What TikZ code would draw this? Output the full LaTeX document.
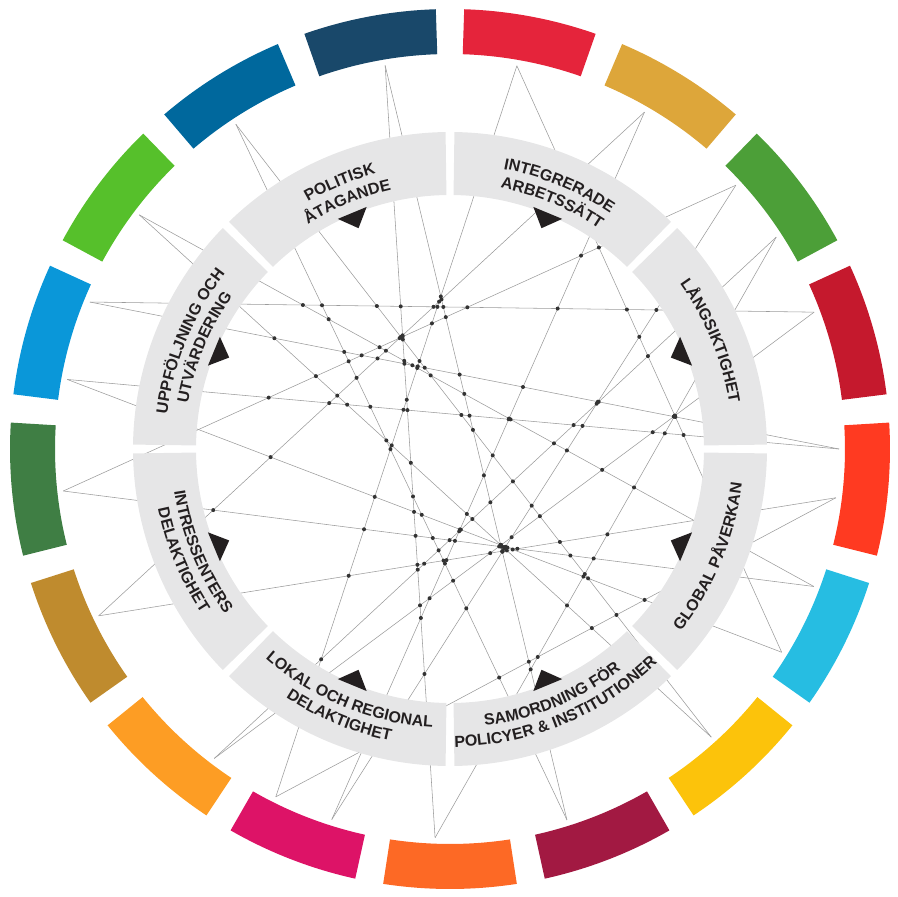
\documentclass[tikz,border=0pt]{standalone}
\usepackage{fontspec}
\setmainfont{Liberation Sans}
\usetikzlibrary{decorations.text}

\definecolor{goal1}{HTML}{E5243B}
\definecolor{goal2}{HTML}{DDA63A}
\definecolor{goal3}{HTML}{4C9F38}
\definecolor{goal4}{HTML}{C5192D}
\definecolor{goal5}{HTML}{FF3A21}
\definecolor{goal6}{HTML}{26BDE2}
\definecolor{goal7}{HTML}{FCC30B}
\definecolor{goal8}{HTML}{A21942}
\definecolor{goal9}{HTML}{FD6925}
\definecolor{goal10}{HTML}{DD1367}
\definecolor{goal11}{HTML}{FD9D24}
\definecolor{goal12}{HTML}{BF8B2E}
\definecolor{goal13}{HTML}{3F7E44}
\definecolor{goal14}{HTML}{0A97D9}
\definecolor{goal15}{HTML}{56C02B}
\definecolor{goal16}{HTML}{00689D}
\definecolor{goal17}{HTML}{19486A}
\definecolor{ringgray}{HTML}{E6E6E7}
\definecolor{labelink}{HTML}{231F20}
\definecolor{chordgray}{HTML}{9B9B9B}
\definecolor{dotgray}{HTML}{333333}

\tikzstyle{chord}=[draw=chordgray,line width=0.55pt]
\tikzstyle{crossdot}=[fill=dotgray]
\tikzstyle{ringseg}=[fill=ringgray]
\tikzstyle{marker}=[fill=labelink]

\newcommand\labelfont{\fontsize{16}{16}\selectfont\bfseries\color{labelink}}
% letter tops pointing away from the centre
\newcommand\outerlabel[3]{%
  \path[decorate,decoration={text along path,text align=center,text={|\labelfont|#3}}]
    (#1+40:#2) arc[start angle=#1+40,end angle=#1-40,radius=#2];}
% letter tops pointing to the centre
\newcommand\innerlabel[3]{%
  \path[decorate,decoration={text along path,text align=center,text={|\labelfont|#3}}]
    (#1-40:#2) arc[start angle=#1-40,end angle=#1+40,radius=#2];}
% dot where chord #1 crosses chord #2 (worked out in units of 100pt)
\newcommand\crossing[2]{%
  \pgfmathsetmacro\ax{3.89*cos(\csname chp#1\endcsname)}%
  \pgfmathsetmacro\ay{3.89*sin(\csname chp#1\endcsname)}%
  \pgfmathsetmacro\ux{3.89*cos(\csname chq#1\endcsname)-(\ax)}%
  \pgfmathsetmacro\uy{3.89*sin(\csname chq#1\endcsname)-(\ay)}%
  \pgfmathsetmacro\cx{3.89*cos(\csname chp#2\endcsname)}%
  \pgfmathsetmacro\cy{3.89*sin(\csname chp#2\endcsname)}%
  \pgfmathsetmacro\wx{3.89*cos(\csname chq#2\endcsname)-(\cx)}%
  \pgfmathsetmacro\wy{3.89*sin(\csname chq#2\endcsname)-(\cy)}%
  \pgfmathsetmacro\den{(\ux)*(\wy)-(\uy)*(\wx)}%
  \pgfmathtruncatemacro\okden{abs(\den)>0.05}%
  \ifnum\okden=1
    \pgfmathsetmacro\tpar{((\cx)-(\ax))*(\wy)/(\den)-((\cy)-(\ay))*(\wx)/(\den)}%
    \pgfmathsetmacro\spar{((\cx)-(\ax))*(\uy)/(\den)-((\cy)-(\ay))*(\ux)/(\den)}%
    \pgfmathtruncatemacro\inside{(\tpar>0)*(\tpar<1)*(\spar>0)*(\spar<1)}%
    \ifnum\inside=1
      \pgfmathsetmacro\ppx{(\ax)+(\tpar)*(\ux)}%
      \pgfmathsetmacro\ppy{(\ay)+(\tpar)*(\uy)}%
      \pgfmathtruncatemacro\inring{(\ppx)*(\ppx)+(\ppy)*(\ppy)<6.35}%
      \ifnum\inring=1 \fill[crossdot] (100*\ppx,100*\ppy) circle (2);\fi
    \fi
  \fi}

\begin{document}
\begin{tikzpicture}[x=1pt,y=1pt]
\useasboundingbox (-450,-448) rectangle (447,449);

% corner points of the web
\foreach \ang [count=\i from 0] in {0,20.6,33,42.7,60,80.1,99.6,123.4,143,157.8,169.7,
    186.2,205.4,232.7,243.4,252.3,267.8,287.5,312.2,328.5,339.3,352.8}{
  \coordinate (a\i) at (\ang:389);
  \expandafter\xdef\csname apx\i\endcsname{\ang}
}
\foreach \u/\v [count=\k] in {9/1, 9/0, 10/0, 11/3, 11/20, 12/4, 12/21, 14/5, 6/16,
    6/17, 4/15, 5/19, 2/13, 8/20, 7/17, 7/18, 1/13, 2/16, 3/15, 10/19, 8/18,
    14/21}{
  \draw[chord] (a\u) -- (a\v);
  \expandafter\xdef\csname chp\k\endcsname{\csname apx\u\endcsname}
  \expandafter\xdef\csname chq\k\endcsname{\csname apx\v\endcsname}
}

% dots where the lines cross
\foreach \i in {1,...,21}{
  \pgfmathtruncatemacro\jfirst{\i+1}
  \foreach \j in {\jfirst,...,22}{\crossing{\i}{\j}}
}

% grey ring
\foreach \k in {0,...,7}{
  \pgfmathsetmacro\sa{\k*45+0.8}
  \pgfmathsetmacro\sb{\k*45+44.2}
  \fill[ringseg] (\sa:254) arc[start angle=\sa,end angle=\sb,radius=254]
    -- (\sb:317) arc[start angle=\sb,end angle=\sa,radius=317] -- cycle;
}
\foreach \m in {22.5,67.5,...,337.5}{
  \fill[marker] (\m+3.5:256) -- (\m:239) -- (\m-3.5:256) -- cycle;
}

\outerlabel{112.5}{285}{POLITISK}
\outerlabel{112.5}{266}{ÅTAGANDE}
\outerlabel{67.5}{285}{INTEGRERADE}
\outerlabel{67.5}{266}{ARBETSSÄTT}
\outerlabel{22.5}{283}{LÅNGSIKTIGHET}
\outerlabel{157.5}{285}{UPPFÖLJNING OCH}
\outerlabel{157.5}{266}{UTVÄRDERING}
\innerlabel{-22.5}{294}{GLOBAL PÅVERKAN}
\innerlabel{-67.5}{279}{SAMORDNING FÖR}
\innerlabel{-67.5}{298}{POLICYER {\&} INSTITUTIONER}
\innerlabel{-112.5}{279}{LOKAL OCH REGIONAL}
\innerlabel{-112.5}{298}{DELAKTIGHET}
\innerlabel{-157.5}{279}{INTRESSENTERS}
\innerlabel{-157.5}{298}{DELAKTIGHET}

% outer ring of the 17 goals
\foreach \col [count=\g] in {goal1,goal2,goal3,goal4,goal5,goal6,goal7,goal8,goal9,
    goal10,goal11,goal12,goal13,goal14,goal15,goal16,goal17}{
  \pgfmathsetmacro\sa{90-(\g-1)*360/17-1.85}
  \pgfmathsetmacro\sb{90-\g*360/17+1.85}
  \fill[\col] (\sa:395) arc[start angle=\sa,end angle=\sb,radius=395]
    -- (\sb:440) arc[start angle=\sb,end angle=\sa,radius=440] -- cycle;
}
\end{tikzpicture}
\end{document}
